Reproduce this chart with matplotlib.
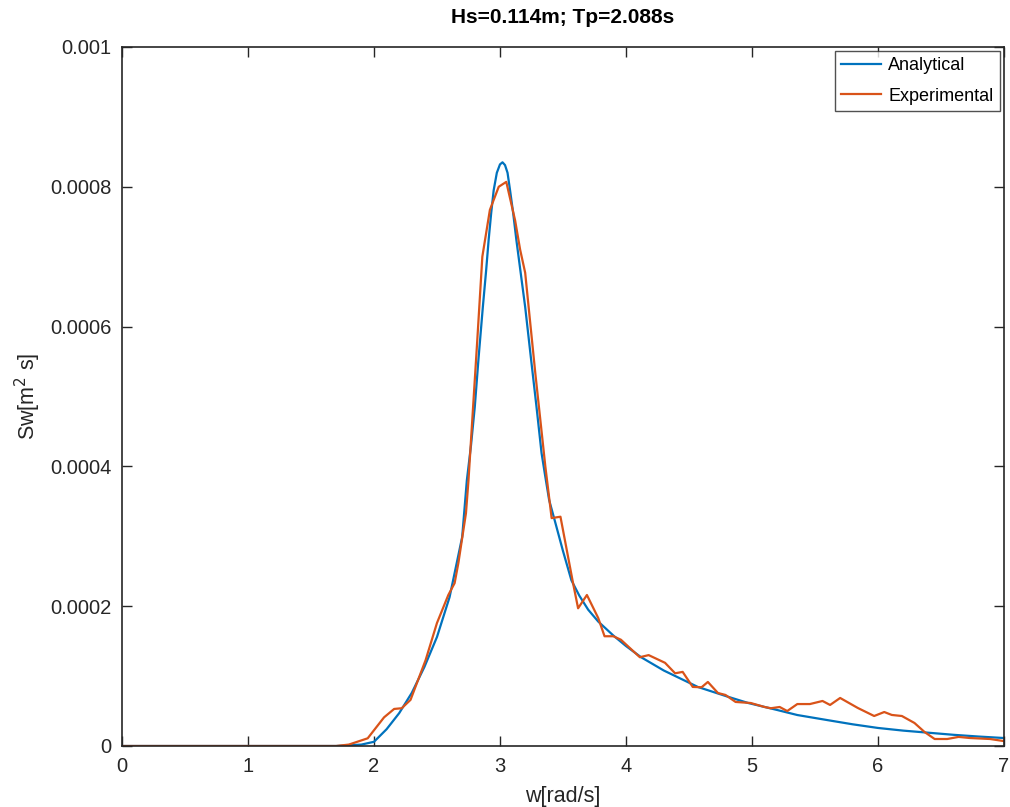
import numpy as np
import matplotlib
matplotlib.use("Agg")
import matplotlib.pyplot as plt

plt.rcParams['font.family'] = ['Liberation Sans', 'DejaVu Sans']

# Analytical spectrum
w_ana = [0.0, 1.7, 1.8, 1.9, 2.0, 2.1, 2.2, 2.3, 2.4, 2.5, 2.6, 2.7, 2.737,
         2.77, 2.8, 2.83, 2.864, 2.89, 2.91, 2.93, 2.95, 2.975, 3.0, 3.02,
         3.04, 3.06, 3.08, 3.105, 3.13, 3.165, 3.2, 3.245, 3.29, 3.33, 3.36,
         3.39, 3.44, 3.5, 3.567, 3.63, 3.7, 3.78, 3.9, 4.0, 4.12, 4.3, 4.57,
         4.8, 4.97, 5.2, 5.36, 5.6, 5.8, 6.0, 6.2, 6.4, 6.6, 6.8, 7.0]
s_ana = [0.0, 0.0, 0.000001, 0.000002, 0.000006, 0.000024, 0.000047, 0.000076,
         0.000113, 0.000156, 0.000213, 0.000299, 0.000380, 0.000430, 0.000485,
         0.000555, 0.000628, 0.000680, 0.000724, 0.000762, 0.000795, 0.000820,
         0.000832, 0.000835, 0.000831, 0.000820, 0.000795, 0.000762, 0.000724,
         0.000676, 0.000628, 0.000556, 0.000485, 0.000419, 0.000385, 0.000352,
         0.000319, 0.000279, 0.000237, 0.000215, 0.000195, 0.000178, 0.000158,
         0.000143, 0.000127, 0.000108, 0.0000845, 0.000071, 0.0000615,
         0.0000515, 0.0000443, 0.000037, 0.000031, 0.0000258, 0.000022,
         0.000019, 0.000016, 0.0000135, 0.0000114]

# Experimental spectrum
w_exp = [0.0, 1.7, 1.8, 1.95, 2.08, 2.16, 2.22, 2.29, 2.41, 2.50, 2.59, 2.64,
         2.67, 2.73, 2.75, 2.82, 2.86, 2.92, 2.99, 3.05, 3.12, 3.16, 3.20, 3.28,
         3.36, 3.41, 3.48, 3.58, 3.62, 3.69, 3.78, 3.83, 3.90, 3.96, 4.02, 4.11,
         4.18, 4.31, 4.39, 4.45, 4.53, 4.60, 4.65, 4.73, 4.79, 4.87, 4.99, 5.10,
         5.15, 5.22, 5.28, 5.36, 5.46, 5.56, 5.62, 5.70, 5.84, 5.97, 6.05, 6.11,
         6.19, 6.29, 6.37, 6.45, 6.55, 6.64, 6.73, 6.89, 7.0]
s_exp = [0.0, 0.0, 0.000002, 0.000011, 0.000041, 0.000053, 0.000054, 0.000066,
         0.000123, 0.000176, 0.000216, 0.000233, 0.000262, 0.000333, 0.000380,
         0.000581, 0.000700, 0.000767, 0.000800, 0.000807, 0.000752, 0.000710,
         0.000677, 0.000534, 0.000400, 0.000326, 0.000328, 0.000233, 0.000197,
         0.000216, 0.000183, 0.000157, 0.000157, 0.000152, 0.000142, 0.000127,
         0.000130, 0.000119, 0.000104, 0.000106, 0.0000845, 0.000084, 0.0000916,
         0.0000758, 0.000073, 0.000063, 0.0000615, 0.0000558, 0.000054,
         0.0000558, 0.000050, 0.000060, 0.000060, 0.0000644, 0.0000587,
         0.0000687, 0.0000544, 0.0000429, 0.0000486, 0.0000444, 0.0000429,
         0.0000329, 0.000020, 0.000010, 0.000010, 0.000013, 0.0000114,
         0.000010, 0.000007]

x_ticks = [0, 1, 2, 3, 4, 5, 6, 7]
y_ticks = [0, 0.0002, 0.0004, 0.0006, 0.0008, 0.001]
y_labels = ['0', '0.0002', '0.0004', '0.0006', '0.0008', '0.001']

txt = '#262626'
fig = plt.figure(figsize=(10.1, 8.07), dpi=100)
ax = fig.add_axes([0.1208, 0.0756, 0.8732, 0.8662])

ax.plot(w_ana, s_ana, color='#0072BD', lw=1.6, label='Analytical')
ax.plot(w_exp, s_exp, color='#D95319', lw=1.6, label='Experimental')

ax.set_xlim(0, 7)
ax.set_ylim(0, 0.001)
ax.set_xticks(x_ticks)
ax.set_yticks(y_ticks)
ax.set_yticklabels(y_labels)
ax.tick_params(direction='in', top=True, right=True, length=7, width=1,
               labelsize=14.5, colors=txt, pad=7.5)
ax.tick_params(axis='x', pad=8)
for sp in ax.spines.values():
    sp.set_color(txt)
    sp.set_linewidth(1.2)

ax.set_xlabel('w[rad/s]', fontsize=15.5, color=txt, labelpad=7)
ax.set_ylabel('Sw[m$^2$ s]', fontsize=15.5, color=txt, labelpad=5)
ax.set_title('Hs=0.114m; Tp=2.088s', fontsize=15, fontweight='bold',
             color='black', pad=17)

leg = ax.legend(loc='upper right', fontsize=13, frameon=True, fancybox=False,
                borderaxespad=0.22, handlelength=2.2, handletextpad=0.4,
                labelspacing=0.75, borderpad=0.35)
leg.get_frame().set_edgecolor(txt)
leg.get_frame().set_linewidth(1.0)

fig.savefig('out.png', dpi=100)
